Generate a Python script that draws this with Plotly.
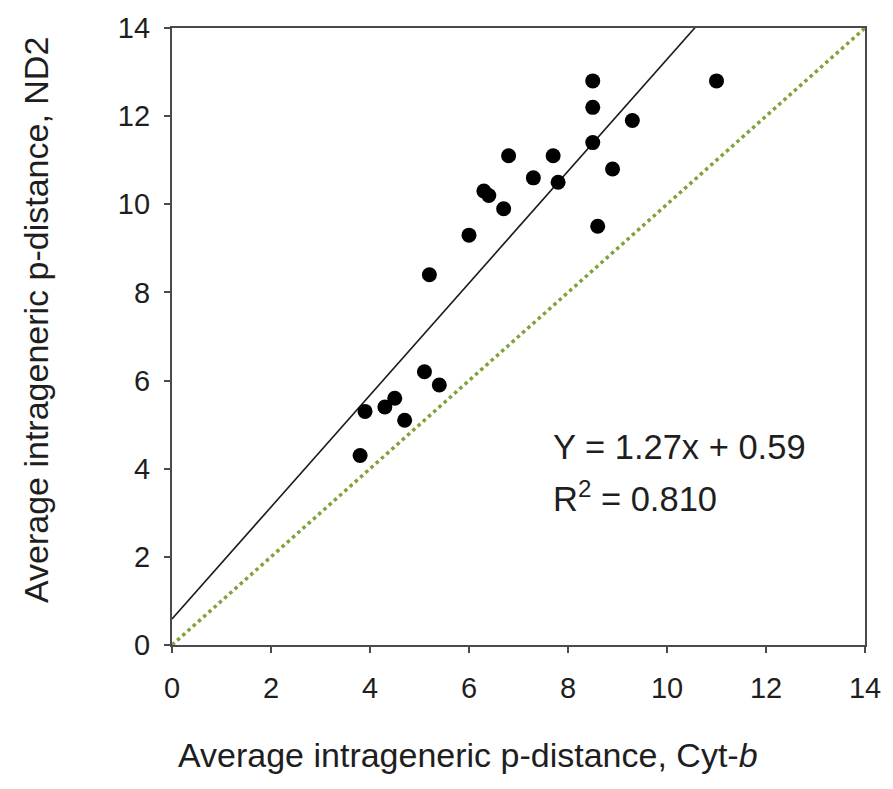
import plotly.graph_objects as go

# Data
cytb = [3.8, 3.9, 4.3, 4.5, 4.7, 5.1, 5.4, 5.2, 6.0, 6.3, 6.4, 6.7, 6.8, 7.3, 7.7, 7.8,
        8.5, 8.5, 8.5, 8.6, 8.9, 9.3, 11.0]
nd2 = [4.3, 5.3, 5.4, 5.6, 5.1, 6.2, 5.9, 8.4, 9.3, 10.3, 10.2, 9.9, 11.1, 10.6, 11.1, 10.5,
       12.8, 12.2, 11.4, 9.5, 10.8, 11.9, 12.8]
slope = 1.27
intercept = 0.59
line_x = [0, 14]
tick_vals = [0, 2, 4, 6, 8, 10, 12, 14]

font_family = "Liberation Sans, Arial, sans-serif"
txt_color = "#1e1e1e"

fig = go.Figure()
# 1:1 line
fig.add_trace(go.Scatter(x=line_x, y=line_x, mode="lines",
                         line=dict(color="#7fa33a", width=3.5, dash="dot"),
                         hoverinfo="skip", showlegend=False))
# regression line
fig.add_trace(go.Scatter(x=line_x, y=[slope * v + intercept for v in line_x], mode="lines",
                         line=dict(color="#1a1a1a", width=1.6),
                         hoverinfo="skip", showlegend=False))
# points
fig.add_trace(go.Scatter(x=cytb, y=nd2, mode="markers",
                         marker=dict(color="black", size=15, line=dict(width=0)),
                         showlegend=False))

axis_common = dict(range=[0, 14], tickvals=tick_vals, showgrid=False, zeroline=False,
                   showline=True, linecolor="#4a4a4a", linewidth=2.2, mirror=True,
                   ticks="outside", ticklen=6, tickwidth=1.5, tickcolor="#4a4a4a",
                   tickfont=dict(family=font_family, size=29, color=txt_color))

fig.update_layout(
    width=893, height=789,
    margin=dict(l=172, r=23, t=21, b=144),
    paper_bgcolor="white", plot_bgcolor="white",
    xaxis=dict(**axis_common, ticklabelstandoff=10),
    yaxis=dict(**axis_common, ticklabelstandoff=8),
    annotations=[
        dict(x=7.66, y=4.49, xref="x", yref="y", text="Y = 1.27x + 0.59", showarrow=False,
             xanchor="left", yanchor="middle",
             font=dict(family=font_family, size=34.5, color=txt_color)),
        dict(x=7.66, y=3.38, xref="x", yref="y", text="R<sup>2</sup> = 0.810", showarrow=False,
             xanchor="left", yanchor="middle",
             font=dict(family=font_family, size=34.5, color=txt_color)),
        dict(x=0.4265, y=-0.179, xref="paper", yref="paper",
             text="Average intrageneric p-distance, Cyt-<i>b</i>", showarrow=False,
             xanchor="center", yanchor="middle",
             font=dict(family=font_family, size=34, color=txt_color)),
        dict(x=-0.196, y=0.527, xref="paper", yref="paper", textangle=-90,
             text="Average intrageneric p-distance, ND2", showarrow=False,
             xanchor="center", yanchor="middle",
             font=dict(family=font_family, size=34, color=txt_color)),
    ],
)

fig.write_html("out.html")
